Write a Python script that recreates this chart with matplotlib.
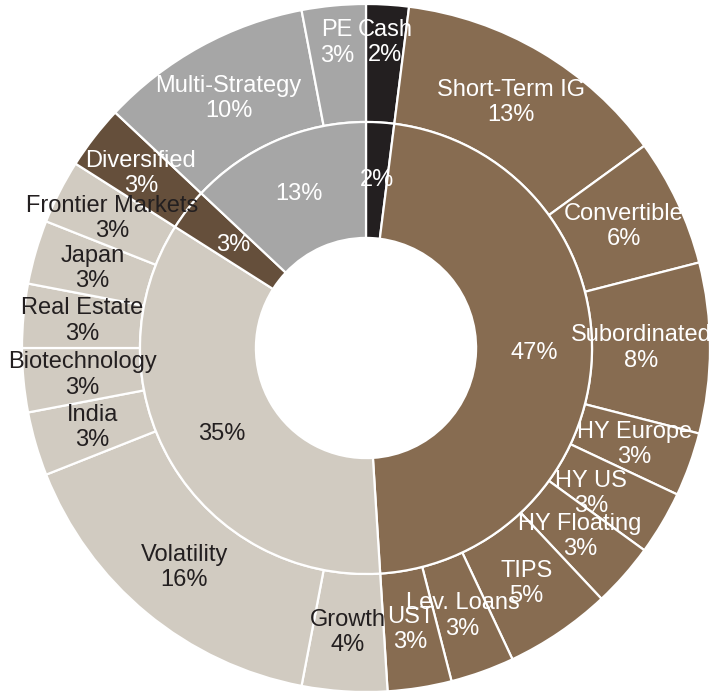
import numpy as np
import matplotlib
matplotlib.use("Agg")
import matplotlib.pyplot as plt

plt.rcParams['font.family'] = ['Liberation Sans', 'DejaVu Sans']

# inner ring: asset groups
groups = ['Cash', 'Fixed Income', 'Equity', 'Diversified', 'Alternatives']
group_vals = [2, 47, 35, 3, 13]
group_colors = ['#231f20', '#876c51', '#d1cbc1', '#654f3b', '#a6a6a6']
group_text = ['white', 'white', '#231f20', 'white', 'white']

# outer ring: holdings (parent index into groups)
items = ['Cash', 'Short-Term IG', 'Convertible', 'Subordinated', 'HY Europe', 'HY US',
         'HY Floating', 'TIPS', 'Lev. Loans', 'UST',
         'Growth', 'Volatility', 'India', 'Biotechnology', 'Real Estate', 'Japan',
         'Frontier Markets', 'Diversified', 'Multi-Strategy', 'PE']
item_vals = [2, 13, 6, 8, 3, 3, 3, 5, 3, 3,
             4, 16, 3, 3, 3, 3, 3, 3, 10, 3]
item_parent = [0, 1, 1, 1, 1, 1, 1, 1, 1, 1,
               2, 2, 2, 2, 2, 2, 2, 3, 4, 4]

fig = plt.figure(figsize=(7.1, 6.91), dpi=100)
ax = fig.add_axes([0, 0, 1, 1])

R_OUT, R_MID, R_HOLE = 1.0, 0.657, 0.32
wp = dict(edgecolor='white', linewidth=1.6)

ax.pie(item_vals, radius=R_OUT, startangle=90, counterclock=False,
       colors=[group_colors[p] for p in item_parent],
       wedgeprops=dict(width=R_OUT - R_MID, **wp))
ax.pie(group_vals, radius=R_MID, startangle=90, counterclock=False,
       colors=group_colors, wedgeprops=dict(width=R_MID - R_HOLE, **wp))


def mid_angles(vals):
    c = np.cumsum([0] + list(vals))
    return [90 - (c[i] + v / 2) / sum(vals) * 360 for i, v in enumerate(vals)]


# label nudges (radius, angle) where the original moved labels
outer_adj = {'Cash': (0.89, 0), 'PE': (0.89, 0), 'HY US': (0.78, -2.3),
             'Subordinated': (0.80, 0)}

for name, v, a, p in zip(items, item_vals, mid_angles(item_vals), item_parent):
    r, da = outer_adj.get(name, ((R_OUT + R_MID) / 2, 0))
    t = np.deg2rad(a + da)
    ax.text(r * np.cos(t), r * np.sin(t), f'{name}\n{v}%', ha='center', va='center',
            fontsize=17, color=group_text[p], linespacing=1.2)

for i, (name, v, a) in enumerate(zip(groups, group_vals, mid_angles(group_vals))):
    r = (R_MID + R_HOLE) / 2
    t = np.deg2rad(a)
    ax.text(r * np.cos(t), r * np.sin(t), f'{v}%', ha='center', va='center',
            fontsize=17, color=group_text[i])

ax.set_xlim(-366 / 344, 344 / 344)
ax.set_ylim(-343 / 344, 348 / 344)
ax.set_aspect('equal')
ax.axis('off')

fig.savefig('out.png', dpi=100)
